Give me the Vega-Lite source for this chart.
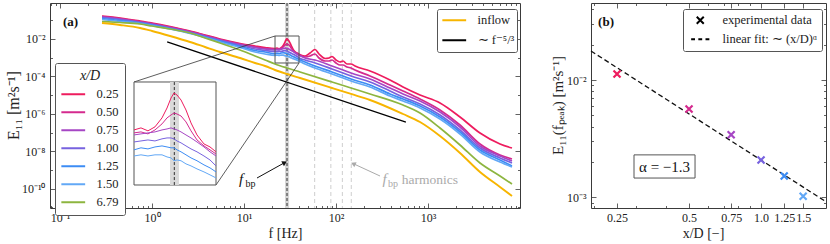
{
"$schema":"https://vega.github.io/schema/vega-lite/v6.json",
"autosize":{"type":"none"},
"padding":{"left":50,"top":3,"right":780,"bottom":241},
"background":"white",
"bounds":"flush",
"spacing":71,
"config":{
 "font":"Liberation Serif",
 "view":{"stroke":"#3a3a3a","strokeWidth":1},
 "axis":{"domain":false,"grid":false,"labelFont":"Liberation Serif","labelFontSize":12,"labelColor":"#222","titleFont":"Liberation Serif","titleFontSize":15,"titleFontWeight":"normal","titleColor":"#222","tickColor":"#3a3a3a","tickWidth":0.8,"labelFlush":false,"labelOverlap":false},
 "legend":{"labelFont":"Liberation Serif","titleFont":"Liberation Serif"},
 "text":{"font":"Liberation Serif"}
},
"resolve":{"scale":{"color":"independent"}},
"datasets":{"spec":[
{"s":"0.25","f":0.286,"E":0.17},{"s":"0.25","f":0.449,"E":0.133},{"s":"0.25","f":0.741,"E":0.0918},{"s":"0.25","f":1,"E":0.0718},{"s":"0.25","f":1.569,"E":0.0466},{"s":"0.25","f":2.588,"E":0.0268},{"s":"0.25","f":3.768,"E":0.0164},{"s":"0.25","f":5.483,"E":0.01},{"s":"0.25","f":9.05,"E":0.00574},{"s":"0.25","f":13.17,"E":0.00423},{"s":"0.25","f":16.92,"E":0.00351},{"s":"0.25","f":21.73,"E":0.00308},{"s":"0.25","f":22.87,"E":0.00329},{"s":"0.25","f":24.07,"E":0.00299},{"s":"0.25","f":25.34,"E":0.0034},{"s":"0.25","f":26.68,"E":0.00454},{"s":"0.25","f":27.68,"E":0.00625},{"s":"0.25","f":28.5,"E":0.00863},{"s":"0.25","f":29.13,"E":0.01014},{"s":"0.25","f":29.78,"E":0.0095},{"s":"0.25","f":30.67,"E":0.00809},{"s":"0.25","f":31.81,"E":0.00586},{"s":"0.25","f":33,"E":0.00386},{"s":"0.25","f":34.48,"E":0.00262},{"s":"0.25","f":36.29,"E":0.00196},{"s":"0.25","f":37.93,"E":0.00178},{"s":"0.25","f":39.63,"E":0.00152},{"s":"0.25","f":46.03,"E":0.00123},{"s":"0.25","f":52.17,"E":0.00178},{"s":"0.25","f":59.12,"E":0.00275},{"s":"0.25","f":65.36,"E":0.00158},{"s":"0.25","f":75.93,"E":0.000906},{"s":"0.25","f":83.95,"E":0.000964},{"s":"0.25","f":90.45,"E":0.00116},{"s":"0.25","f":100,"E":0.000753},{"s":"0.25","f":110.5,"E":0.000589},{"s":"0.25","f":119.2,"E":0.000667},{"s":"0.25","f":131.7,"E":0.00046},{"s":"0.25","f":145.6,"E":0.00046},{"s":"0.25","f":160.9,"E":0.00036},{"s":"0.25","f":234.2,"E":0.000195},{"s":"0.25","f":386.4,"E":0.0000641},{"s":"0.25","f":534.9,"E":0.0000271},{"s":"0.25","f":818.5,"E":0.0000101},{"s":"0.25","f":1350,"E":0.00000378},{"s":"0.25","f":2227,"E":6.75e-7},{"s":"0.25","f":3674,"E":9.4e-8},{"s":"0.25","f":6062,"E":2.43e-8},{"s":"0.25","f":8185,"E":1.48e-8},
{"s":"0.50","f":0.286,"E":0.16},{"s":"0.50","f":0.449,"E":0.125},{"s":"0.50","f":0.741,"E":0.0863},{"s":"0.50","f":1,"E":0.0675},{"s":"0.50","f":1.569,"E":0.0439},{"s":"0.50","f":2.588,"E":0.0252},{"s":"0.50","f":3.768,"E":0.0154},{"s":"0.50","f":5.483,"E":0.0094},{"s":"0.50","f":9.05,"E":0.00541},{"s":"0.50","f":13.17,"E":0.00373},{"s":"0.50","f":16.92,"E":0.0031},{"s":"0.50","f":21.73,"E":0.0028},{"s":"0.50","f":22.87,"E":0.00289},{"s":"0.50","f":24.07,"E":0.00271},{"s":"0.50","f":25.34,"E":0.00308},{"s":"0.50","f":26.68,"E":0.00374},{"s":"0.50","f":27.68,"E":0.00454},{"s":"0.50","f":28.5,"E":0.00499},{"s":"0.50","f":29.13,"E":0.00532},{"s":"0.50","f":29.78,"E":0.00515},{"s":"0.50","f":30.67,"E":0.00483},{"s":"0.50","f":31.81,"E":0.00399},{"s":"0.50","f":33,"E":0.00299},{"s":"0.50","f":34.48,"E":0.00223},{"s":"0.50","f":36.29,"E":0.00184},{"s":"0.50","f":37.93,"E":0.00162},{"s":"0.50","f":39.63,"E":0.00142},{"s":"0.50","f":46.03,"E":0.00109},{"s":"0.50","f":52.17,"E":0.00123},{"s":"0.50","f":59.12,"E":0.00158},{"s":"0.50","f":65.36,"E":0.000964},{"s":"0.50","f":75.93,"E":0.000667},{"s":"0.50","f":83.95,"E":0.000667},{"s":"0.50","f":90.45,"E":0.000753},{"s":"0.50","f":100,"E":0.000521},{"s":"0.50","f":110.5,"E":0.000407},{"s":"0.50","f":119.2,"E":0.000407},{"s":"0.50","f":131.7,"E":0.000318},{"s":"0.50","f":145.6,"E":0.000281},{"s":"0.50","f":160.9,"E":0.00022},{"s":"0.50","f":234.2,"E":0.000105},{"s":"0.50","f":386.4,"E":0.0000347},{"s":"0.50","f":534.9,"E":0.0000166},{"s":"0.50","f":818.5,"E":0.00000618},{"s":"0.50","f":1350,"E":0.0000016},{"s":"0.50","f":2227,"E":2.52e-7},{"s":"0.50","f":3674,"E":2.43e-8},{"s":"0.50","f":6062,"E":6.27e-9},{"s":"0.50","f":8185,"E":3.83e-9},
{"s":"0.75","f":0.286,"E":0.15},{"s":"0.75","f":0.449,"E":0.117},{"s":"0.75","f":0.741,"E":0.0811},{"s":"0.75","f":1,"E":0.0634},{"s":"0.75","f":1.569,"E":0.0412},{"s":"0.75","f":2.588,"E":0.0237},{"s":"0.75","f":3.768,"E":0.01445},{"s":"0.75","f":5.483,"E":0.00885},{"s":"0.75","f":9.05,"E":0.00508},{"s":"0.75","f":13.17,"E":0.00351},{"s":"0.75","f":16.92,"E":0.00292},{"s":"0.75","f":21.73,"E":0.00262},{"s":"0.75","f":22.87,"E":0.00271},{"s":"0.75","f":24.07,"E":0.0028},{"s":"0.75","f":25.34,"E":0.00289},{"s":"0.75","f":26.68,"E":0.00308},{"s":"0.75","f":27.68,"E":0.00318},{"s":"0.75","f":28.5,"E":0.00329},{"s":"0.75","f":29.13,"E":0.00318},{"s":"0.75","f":29.78,"E":0.00308},{"s":"0.75","f":30.67,"E":0.00289},{"s":"0.75","f":31.81,"E":0.00262},{"s":"0.75","f":33,"E":0.00238},{"s":"0.75","f":34.48,"E":0.00209},{"s":"0.75","f":36.29,"E":0.00178},{"s":"0.75","f":37.93,"E":0.00152},{"s":"0.75","f":39.63,"E":0.00133},{"s":"0.75","f":46.03,"E":0.000964},{"s":"0.75","f":59.12,"E":0.000753},{"s":"0.75","f":90.45,"E":0.00036},{"s":"0.75","f":119.2,"E":0.00022},{"s":"0.75","f":145.6,"E":0.000152},{"s":"0.75","f":234.2,"E":0.0000726},{"s":"0.75","f":386.4,"E":0.000024},{"s":"0.75","f":534.9,"E":0.0000115},{"s":"0.75","f":818.5,"E":0.00000483},{"s":"0.75","f":1350,"E":0.00000125},{"s":"0.75","f":2227,"E":1.97e-7},{"s":"0.75","f":3674,"E":1.9e-8},{"s":"0.75","f":6062,"E":5.53e-9},{"s":"0.75","f":8185,"E":2.99e-9},
{"s":"1.00","f":0.286,"E":0.141},{"s":"1.00","f":0.449,"E":0.11},{"s":"1.00","f":0.741,"E":0.0762},{"s":"1.00","f":1,"E":0.0596},{"s":"1.00","f":1.569,"E":0.0387},{"s":"1.00","f":2.588,"E":0.0223},{"s":"1.00","f":3.768,"E":0.0136},{"s":"1.00","f":5.483,"E":0.00832},{"s":"1.00","f":9.05,"E":0.00449},{"s":"1.00","f":13.17,"E":0.00292},{"s":"1.00","f":16.92,"E":0.00243},{"s":"1.00","f":21.73,"E":0.00209},{"s":"1.00","f":22.87,"E":0.00216},{"s":"1.00","f":24.07,"E":0.00223},{"s":"1.00","f":25.34,"E":0.00216},{"s":"1.00","f":26.68,"E":0.00231},{"s":"1.00","f":27.68,"E":0.00238},{"s":"1.00","f":28.5,"E":0.00238},{"s":"1.00","f":29.13,"E":0.00231},{"s":"1.00","f":29.78,"E":0.00216},{"s":"1.00","f":30.67,"E":0.00203},{"s":"1.00","f":31.81,"E":0.00184},{"s":"1.00","f":33,"E":0.00167},{"s":"1.00","f":34.48,"E":0.00152},{"s":"1.00","f":36.29,"E":0.00133},{"s":"1.00","f":37.93,"E":0.00117},{"s":"1.00","f":39.63,"E":0.000966},{"s":"1.00","f":46.03,"E":0.000753},{"s":"1.00","f":59.12,"E":0.000521},{"s":"1.00","f":90.45,"E":0.000249},{"s":"1.00","f":119.2,"E":0.000152},{"s":"1.00","f":145.6,"E":0.000105},{"s":"1.00","f":234.2,"E":0.0000502},{"s":"1.00","f":386.4,"E":0.0000166},{"s":"1.00","f":534.9,"E":0.00000791},{"s":"1.00","f":818.5,"E":0.00000334},{"s":"1.00","f":1350,"E":8.63e-7},{"s":"1.00","f":2227,"E":1.36e-7},{"s":"1.00","f":3674,"E":1.48e-8},{"s":"1.00","f":6062,"E":4.33e-9},{"s":"1.00","f":8185,"E":2.34e-9},
{"s":"1.25","f":0.286,"E":0.125},{"s":"1.25","f":0.449,"E":0.0975},{"s":"1.25","f":0.741,"E":0.0718},{"s":"1.25","f":1,"E":0.0561},{"s":"1.25","f":1.569,"E":0.0364},{"s":"1.25","f":2.588,"E":0.0209},{"s":"1.25","f":3.768,"E":0.0128},{"s":"1.25","f":5.483,"E":0.00782},{"s":"1.25","f":9.05,"E":0.00397},{"s":"1.25","f":13.17,"E":0.00243},{"s":"1.25","f":16.92,"E":0.00202},{"s":"1.25","f":21.73,"E":0.00162},{"s":"1.25","f":22.87,"E":0.00173},{"s":"1.25","f":24.07,"E":0.00167},{"s":"1.25","f":25.34,"E":0.00178},{"s":"1.25","f":26.68,"E":0.00184},{"s":"1.25","f":27.68,"E":0.00178},{"s":"1.25","f":28.5,"E":0.00173},{"s":"1.25","f":29.13,"E":0.00173},{"s":"1.25","f":29.78,"E":0.00162},{"s":"1.25","f":30.67,"E":0.00152},{"s":"1.25","f":31.81,"E":0.00138},{"s":"1.25","f":33,"E":0.00125},{"s":"1.25","f":34.48,"E":0.00114},{"s":"1.25","f":36.29,"E":0.000998},{"s":"1.25","f":37.93,"E":0.000906},{"s":"1.25","f":39.63,"E":0.000796},{"s":"1.25","f":46.03,"E":0.000589},{"s":"1.25","f":59.12,"E":0.00036},{"s":"1.25","f":90.45,"E":0.000172},{"s":"1.25","f":119.2,"E":0.000105},{"s":"1.25","f":145.6,"E":0.0000726},{"s":"1.25","f":234.2,"E":0.0000347},{"s":"1.25","f":386.4,"E":0.0000115},{"s":"1.25","f":534.9,"E":0.00000618},{"s":"1.25","f":818.5,"E":0.00000261},{"s":"1.25","f":1350,"E":6.75e-7},{"s":"1.25","f":2227,"E":1.06e-7},{"s":"1.25","f":3674,"E":1.16e-8},{"s":"1.25","f":6062,"E":3.38e-9},{"s":"1.25","f":8185,"E":1.62e-9},
{"s":"1.50","f":0.286,"E":0.11},{"s":"1.50","f":0.449,"E":0.0863},{"s":"1.50","f":0.741,"E":0.0675},{"s":"1.50","f":1,"E":0.0527},{"s":"1.50","f":1.569,"E":0.0343},{"s":"1.50","f":2.588,"E":0.0197},{"s":"1.50","f":3.768,"E":0.012},{"s":"1.50","f":5.483,"E":0.00692},{"s":"1.50","f":9.05,"E":0.00351},{"s":"1.50","f":13.17,"E":0.00202},{"s":"1.50","f":16.92,"E":0.00158},{"s":"1.50","f":21.73,"E":0.00133},{"s":"1.50","f":22.87,"E":0.00138},{"s":"1.50","f":24.07,"E":0.00133},{"s":"1.50","f":25.34,"E":0.00138},{"s":"1.50","f":26.68,"E":0.00138},{"s":"1.50","f":27.68,"E":0.00129},{"s":"1.50","f":28.5,"E":0.00125},{"s":"1.50","f":29.13,"E":0.00114},{"s":"1.50","f":29.78,"E":0.00117},{"s":"1.50","f":30.67,"E":0.00114},{"s":"1.50","f":31.81,"E":0.00103},{"s":"1.50","f":33,"E":0.000966},{"s":"1.50","f":34.48,"E":0.000877},{"s":"1.50","f":36.29,"E":0.000796},{"s":"1.50","f":37.93,"E":0.000723},{"s":"1.50","f":39.63,"E":0.000656},{"s":"1.50","f":46.03,"E":0.00046},{"s":"1.50","f":59.12,"E":0.000281},{"s":"1.50","f":90.45,"E":0.000134},{"s":"1.50","f":119.2,"E":0.000082},{"s":"1.50","f":145.6,"E":0.0000568},{"s":"1.50","f":234.2,"E":0.0000271},{"s":"1.50","f":386.4,"E":0.00000895},{"s":"1.50","f":534.9,"E":0.00000483},{"s":"1.50","f":818.5,"E":0.00000204},{"s":"1.50","f":1350,"E":5.27e-7},{"s":"1.50","f":2227,"E":8.32e-8},{"s":"1.50","f":3674,"E":9.06e-9},{"s":"1.50","f":6062,"E":2.64e-9},{"s":"1.50","f":8185,"E":1.43e-9},
{"s":"6.79","f":0.286,"E":0.0863},{"s":"6.79","f":0.449,"E":0.0762},{"s":"6.79","f":0.741,"E":0.0634},{"s":"6.79","f":1,"E":0.0495},{"s":"6.79","f":1.569,"E":0.0343},{"s":"6.79","f":2.588,"E":0.0209},{"s":"6.79","f":3.768,"E":0.0113},{"s":"6.79","f":5.483,"E":0.00611},{"s":"6.79","f":9.05,"E":0.00258},{"s":"6.79","f":13.17,"E":0.00123},{"s":"6.79","f":16.92,"E":0.000753},{"s":"6.79","f":21.73,"E":0.00046},{"s":"6.79","f":29.34,"E":0.000281},{"s":"6.79","f":40.62,"E":0.000172},{"s":"6.79","f":90.45,"E":0.0000502},{"s":"6.79","f":145.6,"E":0.000024},{"s":"6.79","f":234.2,"E":0.0000115},{"s":"6.79","f":534.9,"E":0.00000296},{"s":"6.79","f":818.5,"E":0.0000011},{"s":"6.79","f":1350,"E":1.74e-7},{"s":"6.79","f":2227,"E":2.15e-8},{"s":"6.79","f":3674,"E":2.34e-9},{"s":"6.79","f":6062,"E":4.72e-10},{"s":"6.79","f":8185,"E":1.76e-10},
{"s":"inflow","f":0.286,"E":0.0718},{"s":"inflow","f":0.449,"E":0.0561},{"s":"inflow","f":0.741,"E":0.0387},{"s":"inflow","f":1,"E":0.0268},{"s":"inflow","f":1.569,"E":0.01445},{"s":"inflow","f":2.588,"E":0.00692},{"s":"inflow","f":3.768,"E":0.00373},{"s":"inflow","f":5.483,"E":0.00202},{"s":"inflow","f":9.05,"E":0.000964},{"s":"inflow","f":13.17,"E":0.000521},{"s":"inflow","f":16.92,"E":0.00036},{"s":"inflow","f":21.73,"E":0.00022},{"s":"inflow","f":29.34,"E":0.000134},{"s":"inflow","f":40.62,"E":0.000082},{"s":"inflow","f":90.45,"E":0.000024},{"s":"inflow","f":145.6,"E":0.0000115},{"s":"inflow","f":234.2,"E":0.00000547},{"s":"inflow","f":534.9,"E":9.75e-7},{"s":"inflow","f":818.5,"E":3.64e-7},{"s":"inflow","f":1350,"E":6.5e-8},{"s":"inflow","f":2227,"E":8.02e-9},{"s":"inflow","f":3674,"E":7.73e-10},{"s":"inflow","f":6062,"E":1.22e-10},{"s":"inflow","f":8185,"E":4.02e-11}
]},
"hconcat":[
{
 "width":470,"height":205,
 "resolve":{"scale":{"x":"independent","y":"independent"}},
 "layer":[
  {"layer":[
   {"data":{"values":[{"f":58.6},{"f":87.9},{"f":117.2},{"f":146.5}]},"mark":{"type":"rule","color":"#c8c8c8","strokeDash":[4,3],"strokeWidth":0.9},
    "encoding":{"x":{"field":"f","type":"quantitative","scale":{"type":"log","domain":[0.0778,10000],"nice":false}}}},
   {"data":{"values":[{"f":27.9,"f2":30.9}]},"mark":{"type":"rect","color":"#d6d6d6"},
    "encoding":{"x":{"field":"f","type":"quantitative","scale":{"type":"log","domain":[0.0778,10000],"nice":false}},"x2":{"field":"f2"}}},
   {"data":{"values":[{"f":29.34}]},"mark":{"type":"rule","color":"#555555","strokeDash":[3,2],"strokeWidth":1.3},
    "encoding":{"x":{"field":"f","type":"quantitative","scale":{"type":"log","domain":[0.0778,10000],"nice":false}}}},
   {"data":{"name":"spec"},"transform":[{"filter":"datum.s!='inflow'"}],"mark":{"type":"line","strokeWidth":1.7,"interpolate":"monotone"},
    "encoding":{
     "x":{"field":"f","type":"quantitative","scale":{"type":"log","domain":[0.0778,10000],"nice":false},
      "axis":{"orient":"bottom","title":"f [Hz]","titleFontSize":14,"values":[0.08,0.09,0.1,0.2,0.3,0.4,0.5,0.6,0.7,0.8,0.9,1,2,3,4,5,6,7,8,9,10,20,30,40,50,60,70,80,90,100,200,300,400,500,600,700,800,900,1000,2000,3000,4000,5000,6000,7000,8000,9000],
       "labelExpr":"datum.value==0.1?'10⁻¹':datum.value==1?'10⁰':datum.value==10?'10¹':datum.value==100?'10²':datum.value==1000?'10³':''",
       "tickSize":{"condition":{"test":"indexof([0.1,1,10,100,1000],datum.value)>=0","value":-5},"value":-2.5},
       "labelPadding":9,"titleY":25,"titleBaseline":"middle"}},
     "y":{"field":"E","type":"quantitative","scale":{"type":"log","domain":[9.18e-12,0.8415],"nice":false},
      "axis":{"orient":"left","title":"E₁₁ [m²s⁻¹]","titleFontSize":16,"values":[1e-11,1e-10,1e-9,1e-8,1e-7,1e-6,1e-5,1e-4,1e-3,1e-2,1e-1],
       "labelExpr":"datum.value==1e-2?'10⁻²':datum.value==1e-4?'10⁻⁴':datum.value==1e-6?'10⁻⁶':datum.value==1e-8?'10⁻⁸':datum.value==1e-10?'10⁻¹⁰':''",
       "tickSize":{"condition":{"test":"indexof([1e-10,1e-8,1e-6,1e-4,1e-2],datum.value)>=0","value":-5},"value":-2.5},
       "labelPadding":10,"titleX":-37,"titleY":102,"titleBaseline":"middle"}},
     "color":{"field":"s","type":"nominal","scale":{"domain":["0.25","0.50","0.75","1.00","1.25","1.50","6.79"],"range":["#ee1c5e","#d42a8e","#a646c4","#7762df","#3c8cf4","#62a8f6","#8db53f"]},
      "legend":{"orient":"none","legendX":5,"legendY":60,"title":"x/D","titleFontStyle":"italic","titleFontSize":14,"titleFontWeight":"normal","titleAnchor":"middle","titlePadding":5,"titleColor":"#222","symbolType":"M-3.4,0L3.4,0","symbolSize":49,"symbolStrokeWidth":2,"symbolOffset":6,"labelFontSize":12.5,"labelOffset":17,"labelColor":"#222","rowPadding":5,"padding":6,"strokeColor":"#555","fillColor":"white","cornerRadius":2}}}},
   {"data":{"name":"spec"},"transform":[{"filter":"datum.s=='inflow'"}],"mark":{"type":"line","strokeWidth":1.9,"interpolate":"monotone"},
    "encoding":{"x":{"field":"f","type":"quantitative","scale":{"type":"log","domain":[0.0778,10000],"nice":false}},
     "y":{"field":"E","type":"quantitative","scale":{"type":"log","domain":[9.18e-12,0.8415],"nice":false}},
     "stroke":{"datum":"inflow","scale":{"domain":["inflow","∼ f⁻⁵/³"],"range":["#f7b500","#000000"]},
      "legend":{"orient":"none","legendX":387,"legendY":6,"title":null,"symbolType":"M-3.4,0L3.4,0","symbolSize":49,"symbolStrokeWidth":2,"symbolOffset":6,"labelFontSize":12.5,"labelOffset":17,"labelColor":"#222","rowPadding":7,"padding":5,"strokeColor":"#555","fillColor":"white","cornerRadius":2}}}},
   {"data":{"values":[{"f":1.46,"E":0.00692},{"f":575,"E":3.64e-7}]},"mark":{"type":"line","strokeWidth":1.3},
    "encoding":{"x":{"field":"f","type":"quantitative","scale":{"type":"log","domain":[0.0778,10000],"nice":false}},
     "y":{"field":"E","type":"quantitative","scale":{"type":"log","domain":[9.18e-12,0.8415],"nice":false}},
     "stroke":{"datum":"∼ f⁻⁵/³"}}},
   {"data":{"values":[{"f":21.73,"f2":39.63,"E":0.000521,"E2":0.01445}]},"mark":{"type":"rect","fillOpacity":0,"stroke":"#555555","strokeWidth":1},
    "encoding":{"x":{"field":"f","type":"quantitative","scale":{"type":"log","domain":[0.0778,10000],"nice":false}},"x2":{"field":"f2"},
     "y":{"field":"E","type":"quantitative","scale":{"type":"log","domain":[9.18e-12,0.8415],"nice":false}},"y2":{"field":"E2"}}},
   {"data":{"values":[{"f":21.73,"E":0.01445,"f2":0.637,"E2":0.0000502},{"f":39.63,"E":0.000521,"f2":4.96,"E2":1.56e-10}]},"mark":{"type":"rule","color":"#333333","strokeWidth":0.8},
    "encoding":{"x":{"field":"f","type":"quantitative","scale":{"type":"log","domain":[0.0778,10000],"nice":false}},"x2":{"field":"f2"},
     "y":{"field":"E","type":"quantitative","scale":{"type":"log","domain":[9.18e-12,0.8415],"nice":false}},"y2":{"field":"E2"}}},
   {"data":{"values":[{"f":0.637,"f2":4.96,"E":0.0000502,"E2":1.56e-10}]},"mark":{"type":"rect","fill":"white","stroke":"#555555","strokeWidth":1},
    "encoding":{"x":{"field":"f","type":"quantitative","scale":{"type":"log","domain":[0.0778,10000],"nice":false}},"x2":{"field":"f2"},
     "y":{"field":"E","type":"quantitative","scale":{"type":"log","domain":[9.18e-12,0.8415],"nice":false}},"y2":{"field":"E2"}}},
   {"data":{"values":[{"t":"(a)","f":0.1078,"E":0.0811}]},"mark":{"type":"text","fontWeight":"bold","fontSize":13,"align":"left","baseline":"middle","color":"#111"},
    "encoding":{"x":{"field":"f","type":"quantitative","scale":{"type":"log","domain":[0.0778,10000],"nice":false}},
     "y":{"field":"E","type":"quantitative","scale":{"type":"log","domain":[9.18e-12,0.8415],"nice":false}},"text":{"field":"t"}}},
   {"data":{"values":[{"t":"f","f":9.28,"E":1.76e-10}]},"mark":{"type":"text","fontStyle":"italic","fontSize":15,"align":"center","baseline":"alphabetic","color":"#111"},
    "encoding":{"x":{"field":"f","type":"quantitative","scale":{"type":"log","domain":[0.0778,10000],"nice":false}},
     "y":{"field":"E","type":"quantitative","scale":{"type":"log","domain":[9.18e-12,0.8415],"nice":false}},"text":{"field":"t"}}},
   {"data":{"values":[{"t":"bp","f":10.38,"E":1.22e-10}]},"mark":{"type":"text","fontSize":10,"align":"left","baseline":"alphabetic","color":"#111"},
    "encoding":{"x":{"field":"f","type":"quantitative","scale":{"type":"log","domain":[0.0778,10000],"nice":false}},
     "y":{"field":"E","type":"quantitative","scale":{"type":"log","domain":[9.18e-12,0.8415],"nice":false}},"text":{"field":"t"}}},
   {"data":{"values":[{"t":"f","f":336.6,"E":1.76e-10}]},"mark":{"type":"text","fontStyle":"italic","fontSize":15,"align":"center","baseline":"alphabetic","color":"#aaaaaa"},
    "encoding":{"x":{"field":"f","type":"quantitative","scale":{"type":"log","domain":[0.0778,10000],"nice":false}},
     "y":{"field":"E","type":"quantitative","scale":{"type":"log","domain":[9.18e-12,0.8415],"nice":false}},"text":{"field":"t"}}},
   {"data":{"values":[{"t":"bp","f":367.4,"E":1.22e-10}]},"mark":{"type":"text","fontSize":10,"align":"left","baseline":"alphabetic","color":"#aaaaaa"},
    "encoding":{"x":{"field":"f","type":"quantitative","scale":{"type":"log","domain":[0.0778,10000],"nice":false}},
     "y":{"field":"E","type":"quantitative","scale":{"type":"log","domain":[9.18e-12,0.8415],"nice":false}},"text":{"field":"t"}}},
   {"data":{"values":[{"t":"harmonics","f":517.6,"E":1.76e-10}]},"mark":{"type":"text","fontSize":13.5,"align":"left","baseline":"alphabetic","color":"#aaaaaa"},
    "encoding":{"x":{"field":"f","type":"quantitative","scale":{"type":"log","domain":[0.0778,10000],"nice":false}},
     "y":{"field":"E","type":"quantitative","scale":{"type":"log","domain":[9.18e-12,0.8415],"nice":false}},"text":{"field":"t"}}},
   {"data":{"values":[{"f":13.84,"E":3.69e-10,"f2":27.21,"E2":2.34e-9}]},"mark":{"type":"rule","color":"#111111","strokeWidth":1},
    "encoding":{"x":{"field":"f","type":"quantitative","scale":{"type":"log","domain":[0.0778,10000],"nice":false}},"x2":{"field":"f2"},
     "y":{"field":"E","type":"quantitative","scale":{"type":"log","domain":[9.18e-12,0.8415],"nice":false}},"y2":{"field":"E2"}}},
   {"data":{"values":[{"f":27.21,"E":2.34e-9}]},"mark":{"type":"point","shape":"triangle","filled":true,"color":"#111111","size":30,"angle":61,"opacity":1},
    "encoding":{"x":{"field":"f","type":"quantitative","scale":{"type":"log","domain":[0.0778,10000],"nice":false}},
     "y":{"field":"E","type":"quantitative","scale":{"type":"log","domain":[9.18e-12,0.8415],"nice":false}}}},
   {"data":{"values":[{"f":300.9,"E":4.72e-10,"f2":156.9,"E2":2.07e-9}]},"mark":{"type":"rule","color":"#aaaaaa","strokeWidth":1},
    "encoding":{"x":{"field":"f","type":"quantitative","scale":{"type":"log","domain":[0.0778,10000],"nice":false}},"x2":{"field":"f2"},
     "y":{"field":"E","type":"quantitative","scale":{"type":"log","domain":[9.18e-12,0.8415],"nice":false}},"y2":{"field":"E2"}}},
   {"data":{"values":[{"f":156.9,"E":2.07e-9}]},"mark":{"type":"point","shape":"triangle","filled":true,"color":"#aaaaaa","size":30,"angle":-65,"opacity":1},
    "encoding":{"x":{"field":"f","type":"quantitative","scale":{"type":"log","domain":[0.0778,10000],"nice":false}},
     "y":{"field":"E","type":"quantitative","scale":{"type":"log","domain":[9.18e-12,0.8415],"nice":false}}}}
  ]},
  {"layer":[
   {"data":{"values":[{"f":28.29,"f2":30.21,"E":0.000521,"E2":0.01445}]},"mark":{"type":"rect","color":"#dadada"},
    "encoding":{"x":{"field":"f","type":"quantitative","scale":{"type":"log","domain":[11.74,367.9],"nice":false},"axis":null},"x2":{"field":"f2"},
     "y":{"field":"E","type":"quantitative","scale":{"type":"log","domain":[0.0002485,0.1846],"nice":false},"axis":null},"y2":{"field":"E2"}}},
   {"data":{"values":[{"f":29.2,"E":0.000521,"E2":0.01445}]},"mark":{"type":"rule","color":"#333333","strokeDash":[3,2],"strokeWidth":1},
    "encoding":{"x":{"field":"f","type":"quantitative","scale":{"type":"log","domain":[11.74,367.9],"nice":false},"axis":null},
     "y":{"field":"E","type":"quantitative","scale":{"type":"log","domain":[0.0002485,0.1846],"nice":false},"axis":null},"y2":{"field":"E2"}}},
   {"data":{"name":"spec"},"transform":[{"filter":"datum.f>=21.7 && datum.f<=39.7 && datum.s!='inflow' && datum.s!='6.79'"}],"mark":{"type":"line","strokeWidth":1},
    "encoding":{"x":{"field":"f","type":"quantitative","scale":{"type":"log","domain":[11.74,367.9],"nice":false},"axis":null},
     "y":{"field":"E","type":"quantitative","scale":{"type":"log","domain":[0.0002485,0.1846],"nice":false},"axis":null},
     "color":{"field":"s","type":"nominal","scale":{"domain":["0.25","0.50","0.75","1.00","1.25","1.50","6.79"],"range":["#ee1c5e","#d42a8e","#a646c4","#7762df","#3c8cf4","#62a8f6","#8db53f"]}}}}
  ]},
  {"data":{"values":[{"f":1,"E":0.001}]},"mark":{"type":"point","opacity":0},
   "encoding":{
    "x":{"field":"f","type":"quantitative","scale":{"type":"log","domain":[0.0778,10000],"nice":false},
     "axis":{"orient":"top","labels":false,"title":null,"values":[0.08,0.09,0.1,0.2,0.3,0.4,0.5,0.6,0.7,0.8,0.9,1,2,3,4,5,6,7,8,9,10,20,30,40,50,60,70,80,90,100,200,300,400,500,600,700,800,900,1000,2000,3000,4000,5000,6000,7000,8000,9000],
      "tickSize":{"condition":{"test":"indexof([0.1,1,10,100,1000],datum.value)>=0","value":-5},"value":-2.5}}},
    "y":{"field":"E","type":"quantitative","scale":{"type":"log","domain":[9.18e-12,0.8415],"nice":false},
     "axis":{"orient":"right","labels":false,"title":null,"values":[1e-11,1e-10,1e-9,1e-8,1e-7,1e-6,1e-5,1e-4,1e-3,1e-2,1e-1],
      "tickSize":{"condition":{"test":"indexof([1e-10,1e-8,1e-6,1e-4,1e-2],datum.value)>=0","value":-5},"value":-2.5}}}}}
 ]
},
{
 "width":235,"height":205,
 "resolve":{"scale":{"x":"independent","y":"independent"}},
 "layer":[
  {"layer":[
   {"data":{"values":[{"x":0.1946,"E":0.01766},{"x":1.869,"E":0.000917}]},"mark":{"type":"line","color":"#111111","strokeDash":[5,3],"strokeWidth":1.3},
    "encoding":{
     "x":{"field":"x","type":"quantitative","scale":{"type":"log","domain":[0.1946,1.869],"nice":false},
      "axis":{"orient":"bottom","title":"x/D [−]","titleFontSize":14,"values":[0.2,0.25,0.3,0.4,0.5,0.6,0.7,0.75,0.8,0.9,1,1.25,1.5],
       "labelExpr":"datum.value==0.25?'0.25':datum.value==0.5?'0.5':datum.value==0.75?'0.75':datum.value==1?'1.0':datum.value==1.25?'1.25':datum.value==1.5?'1.5':''",
       "tickSize":{"condition":{"test":"indexof([0.25,0.5,0.75,1,1.25,1.5],datum.value)>=0","value":-5},"value":-2.5},
       "labelPadding":9,"titleY":25,"titleX":112,"titleBaseline":"middle"}},
     "y":{"field":"E","type":"quantitative","scale":{"type":"log","domain":[0.000811,0.04533],"nice":false},
      "axis":{"orient":"left","title":"E₁₁(fₚₑₐₖ) [m²s⁻¹]","values":[0.0009,0.001,0.002,0.003,0.004,0.005,0.006,0.007,0.008,0.009,0.01,0.02,0.03,0.04],
       "labelExpr":"datum.value==0.01?'10⁻²':datum.value==0.001?'10⁻³':''",
       "tickSize":{"condition":{"test":"datum.value==0.01||datum.value==0.001","value":-5},"value":-2.5},
       "labelPadding":10,"titleX":-34,"titleY":102,"titleBaseline":"middle"}}}},
   {"data":{"values":[{"x":0.25,"E":0.01125,"s":"0.25"},{"x":0.5,"E":0.00566,"s":"0.50"},{"x":0.75,"E":0.00342,"s":"0.75"},{"x":1.0,"E":0.00208,"s":"1.00"},{"x":1.25,"E":0.00152,"s":"1.25"},{"x":1.5,"E":0.00102,"s":"1.50"}]},
    "mark":{"type":"point","filled":false,"strokeWidth":2.2,"size":49,"opacity":1},
    "encoding":{"x":{"field":"x","type":"quantitative","scale":{"type":"log","domain":[0.1946,1.869],"nice":false}},
     "y":{"field":"E","type":"quantitative","scale":{"type":"log","domain":[0.000811,0.04533],"nice":false}},
     "color":{"field":"s","type":"nominal","scale":{"domain":["0.25","0.50","0.75","1.00","1.25","1.50"],"range":["#ee1c5e","#d42a8e","#a646c4","#7762df","#3c8cf4","#62a8f6"]},"legend":null},
     "shape":{"datum":"experimental data","scale":{"domain":["experimental data","linear fit: ∼ (x/D)ᵅ"],"range":["M-1,-1L1,1M-1,1L1,-1","M-2.6,0L-1.5,0M-0.55,0L0.55,0M1.5,0L2.6,0"]},
      "legend":{"orient":"none","legendX":633,"legendY":6,"title":null,"symbolStrokeColor":"black","symbolFillColor":"transparent","symbolStrokeWidth":2,"symbolSize":49,"symbolOffset":6,"labelFontSize":12.5,"labelOffset":16,"labelColor":"#222","rowPadding":5,"padding":5,"strokeColor":"#555","fillColor":"white","cornerRadius":2}}}},
   {"data":{"values":[{"x":0.2944,"x2":0.5298,"E":0.00146,"E2":0.0023}]},"mark":{"type":"rect","fill":"white","stroke":"#555555","strokeWidth":1},
    "encoding":{"x":{"field":"x","type":"quantitative","scale":{"type":"log","domain":[0.1946,1.869],"nice":false}},"x2":{"field":"x2"},
     "y":{"field":"E","type":"quantitative","scale":{"type":"log","domain":[0.000811,0.04533],"nice":false}},"y2":{"field":"E2"}}},
   {"data":{"values":[{"t":"α = −1.3","x":0.395,"E":0.00183}]},"mark":{"type":"text","fontSize":15,"align":"center","baseline":"middle","color":"#111"},
    "encoding":{"x":{"field":"x","type":"quantitative","scale":{"type":"log","domain":[0.1946,1.869],"nice":false}},
     "y":{"field":"E","type":"quantitative","scale":{"type":"log","domain":[0.000811,0.04533],"nice":false}},"text":{"field":"t"}}},
   {"data":{"values":[{"t":"(b)","x":0.2083,"E":0.03123}]},"mark":{"type":"text","fontWeight":"bold","fontSize":13,"align":"left","baseline":"middle","color":"#111"},
    "encoding":{"x":{"field":"x","type":"quantitative","scale":{"type":"log","domain":[0.1946,1.869],"nice":false}},
     "y":{"field":"E","type":"quantitative","scale":{"type":"log","domain":[0.000811,0.04533],"nice":false}},"text":{"field":"t"}}}
  ]},
  {"data":{"values":[{"x":1,"E":0.005}]},"mark":{"type":"point","opacity":0},
   "encoding":{
    "x":{"field":"x","type":"quantitative","scale":{"type":"log","domain":[0.1946,1.869],"nice":false},
     "axis":{"orient":"top","labels":false,"title":null,"values":[0.2,0.25,0.3,0.4,0.5,0.6,0.7,0.75,0.8,0.9,1,1.25,1.5],
      "tickSize":{"condition":{"test":"indexof([0.25,0.5,0.75,1,1.25,1.5],datum.value)>=0","value":-5},"value":-2.5}}},
    "y":{"field":"E","type":"quantitative","scale":{"type":"log","domain":[0.000811,0.04533],"nice":false},
     "axis":{"orient":"right","labels":false,"title":null,"values":[0.0009,0.001,0.002,0.003,0.004,0.005,0.006,0.007,0.008,0.009,0.01,0.02,0.03,0.04],
      "tickSize":{"condition":{"test":"datum.value==0.01||datum.value==0.001","value":-5},"value":-2.5}}}}}
 ]
}
]
}
